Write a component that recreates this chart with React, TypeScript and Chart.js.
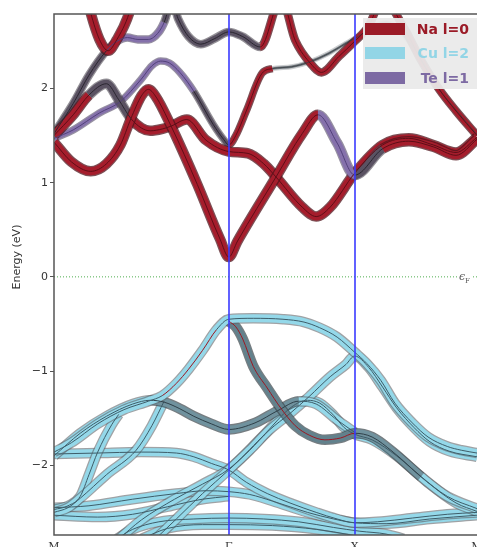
import React, { useEffect, useRef } from 'react';
import { Chart, registerables } from 'chart.js';
Chart.register(...registerables);

// ---- axes ----
const kTicks = [0, 1, 1.72, 2.42];
const kLabels = ['M', 'Γ', 'X', 'M'];
const eTicks = [-2, -1, 0, 1, 2];
const eMin = -2.74;
const eMax = 2.79;
const yTitle = 'Energy (eV)';
const fermiLabel = 'ϵ';

// ---- legend ----
const legendNames = ['Na l=0', 'Cu l=2', 'Te l=1'];
const legendColors = ['#9b1b27', '#92d5e6', '#7d6aa3'];

// ---- conduction bands [k, E] with per-point character codes ----
const naLow = [[0,1.43],[0.10,1.22],[0.21,1.12],[0.30,1.20],[0.38,1.40],[0.44,1.68],[0.50,1.92],[0.54,1.99],[0.58,1.92],[0.67,1.60],[0.82,0.98],[0.95,0.40],[1.00,0.21],[1.05,0.38],[1.27,1.06],[1.42,1.52],[1.51,1.72],[1.62,1.42],[1.72,1.08],[1.88,1.36],[2.03,1.44],[2.17,1.38],[2.30,1.29],[2.42,1.46]];
const naLowCodes = 'rrrrrrrrrrrrrrrrppkrrrrr';
const naMid = [[0,1.50],[0.11,1.72],[0.20,1.93],[0.30,2.05],[0.37,1.88],[0.44,1.68],[0.50,1.58],[0.55,1.55],[0.62,1.57],[0.67,1.60],[0.76,1.67],[0.87,1.45],[1.00,1.33],[1.11,1.31],[1.20,1.20],[1.27,1.06],[1.42,0.74],[1.50,0.64],[1.58,0.74],[1.72,1.10],[1.88,1.40],[2.03,1.47],[2.17,1.40],[2.30,1.32],[2.42,1.48]];
const naMidCodes = 'rrkkkrrrrrrrrrrrrrrrrrrrr';
const naV = [[0.17,3.10],[0.21,2.80],[0.26,2.52],[0.31,2.40],[0.36,2.52],[0.43,2.80],[0.47,3.10]];
const naVCodes = 'rrrrrrr';
const teA = [[0,1.52],[0.11,1.84],[0.20,2.14],[0.30,2.40],[0.36,2.50],[0.42,2.54],[0.48,2.52],[0.54,2.52],[0.60,2.60],[0.63,2.70],[0.675,2.92],[0.71,2.74],[0.77,2.55],[0.84,2.47],[0.92,2.53],[1.00,2.60],[1.08,2.55],[1.18,2.44],[1.30,2.95],[1.38,2.51],[1.47,2.26],[1.53,2.17],[1.63,2.34],[1.72,2.50],[1.80,2.66],[1.88,2.95],[2.00,2.65],[2.10,2.30],[2.20,2.00],[2.30,1.76],[2.42,1.50]];
const teACodes = 'kkkppppppkkkkkkkkrrrrrrrrrrrrrr';
const teB = [[0,1.47],[0.11,1.56],[0.26,1.74],[0.38,1.86],[0.50,2.10],[0.56,2.24],[0.61,2.29],[0.66,2.27],[0.72,2.17],[0.80,1.97],[0.91,1.62],[0.97,1.46],[1.00,1.40],[1.04,1.50],[1.10,1.76],[1.19,2.16],[1.25,2.21],[1.36,2.23],[1.46,2.28],[1.57,2.37],[1.69,2.50],[1.72,2.53],[1.90,2.70],[2.05,2.45],[2.20,2.00],[2.30,1.77],[2.42,1.51]];
const teBCodes = 'pppppppppkkkrrrrhhhhhhhhhhh';

// ---- valence bands ----
const cuTop = [[0,-1.86],[0.10,-1.76],[0.25,-1.56],[0.40,-1.41],[0.54,-1.32],[0.62,-1.26],[0.70,-1.13],[0.77,-0.98],[0.85,-0.78],[0.93,-0.56],[1.00,-0.45],[1.14,-0.44],[1.31,-0.45],[1.43,-0.48],[1.52,-0.54],[1.62,-0.64],[1.72,-0.80],[1.79,-0.92],[1.87,-1.10],[1.95,-1.34],[2.05,-1.55],[2.14,-1.70],[2.25,-1.80],[2.33,-1.84],[2.42,-1.87]];
const cuTopCodes = 'cccccyyyycccccccccccccccc';
const cuG = [[0.57,-2.80],[0.70,-2.57],[0.85,-2.30],[1.00,-2.05],[1.12,-1.84],[1.23,-1.63],[1.35,-1.45],[1.46,-1.27],[1.58,-1.06],[1.67,-0.93],[1.72,-0.84],[1.80,-0.96],[1.88,-1.17],[1.96,-1.39],[2.06,-1.60],[2.15,-1.75],[2.26,-1.85],[2.42,-1.91]];
const cuGCodes = 'cccccccccccccccccc';
const cuH = [[0.36,-2.80],[0.50,-2.58],[0.69,-2.36],[0.85,-2.20],[1.00,-2.04],[1.19,-1.70],[1.36,-1.38],[1.45,-1.31],[1.52,-1.34],[1.60,-1.47],[1.66,-1.60],[1.72,-1.67],[1.82,-1.73],[1.96,-1.90],[2.13,-2.17],[2.30,-2.40],[2.42,-2.49]];
const cuHCodes = 'ccccccccccccccccc';
const cuVb = [[0,-1.90],[0.15,-1.66],[0.30,-1.48],[0.45,-1.35],[0.55,-1.31],[0.63,-1.33],[0.72,-1.40],[0.80,-1.48],[0.90,-1.56],[1.00,-1.62],[1.15,-1.55],[1.28,-1.42],[1.40,-1.32],[1.50,-1.35],[1.62,-1.52],[1.72,-1.65]];
const cuVbCodes = 'ccccggggggggcccc';
const cuR = [[1.00,-0.47],[1.04,-0.53],[1.08,-0.66],[1.14,-0.95],[1.22,-1.18],[1.30,-1.40],[1.38,-1.58],[1.46,-1.68],[1.55,-1.73],[1.64,-1.71],[1.72,-1.66],[1.82,-1.70],[1.94,-1.86],[2.10,-2.12],[2.25,-2.33],[2.42,-2.46]];
const cuRCodes = 'xxxxxxxxxxgggccc';
const cuFlat = [[0,-1.88],[0.25,-1.87],[0.50,-1.86],[0.70,-1.87],[0.80,-1.91],[0.90,-1.98],[1.00,-2.05],[1.10,-2.18],[1.22,-2.30],[1.35,-2.40],[1.50,-2.50],[1.62,-2.57],[1.72,-2.61],[1.85,-2.60],[2.05,-2.56],[2.25,-2.52],[2.42,-2.50]];
const cuFlatCodes = 'ccccccccccccccccc';
const cuD1 = [[0,-2.47],[0.08,-2.43],[0.15,-2.33],[0.20,-2.10],[0.25,-1.86],[0.33,-1.57],[0.37,-1.46]];
const cuD1Codes = 'ccccccc';
const cuD2 = [[0,-2.50],[0.08,-2.45],[0.15,-2.35],[0.30,-2.10],[0.47,-1.84],[0.56,-1.58],[0.63,-1.32]];
const cuD2Codes = 'ccccccc';
const cuLens = [[0,-2.45],[0.20,-2.43],[0.45,-2.36],[0.70,-2.30],[0.87,-2.27],[1.00,-2.28],[1.12,-2.31],[1.25,-2.38],[1.45,-2.50],[1.60,-2.57],[1.72,-2.61],[1.90,-2.62],[2.15,-2.57],[2.42,-2.53]];
const cuLensCodes = 'cccccccccccccc';
const cuLow = [[0,-2.53],[0.25,-2.55],[0.45,-2.52],[0.65,-2.44],[0.85,-2.36],[1.00,-2.33]];
const cuLowCodes = 'cccccc';
const cuBot1 = [[0.36,-2.78],[0.45,-2.68],[0.60,-2.60],[0.80,-2.57],[1.00,-2.56],[1.20,-2.57],[1.40,-2.60],[1.60,-2.66],[1.75,-2.70],[1.90,-2.73],[2.00,-2.78]];
const cuBot1Codes = 'ccccccccccc';
const cuBot2 = [[0.50,-2.78],[0.65,-2.67],[0.85,-2.63],[1.00,-2.63],[1.25,-2.64],[1.50,-2.68],[1.70,-2.74],[1.80,-2.78]];
const cuBot2Codes = 'cccccccc';

const fillCol: Record<string, string> = { r: '#a51d2c', c: '#94d8e9', p: '#8571ab', k: '#5a5262', g: '#70929e', x: '#62818c', y: '#94d8e9', h: '#6f767c' };
const coreCol: Record<string, string> = { r: '#5e0e17', c: '#3e5d69', p: '#52417a', k: '#2a2630', g: '#2f4049', x: '#9c1822', y: '#9c1822', h: '#3a3f44' };
const edgeCol: Record<string, string> = { r: 'rgba(80,20,28,0.75)', c: 'rgba(95,100,105,0.6)', p: 'rgba(80,70,100,0.6)', k: 'rgba(60,55,65,0.55)', g: 'rgba(60,70,75,0.7)', x: 'rgba(60,70,75,0.7)', y: 'rgba(95,100,105,0.6)', h: 'rgba(110,115,120,0.35)' };
const thinCodes: Record<string, number> = { h: 2.5 };

const bandList: [number[][], string, number][] = [
  [cuBot2, cuBot2Codes, 8], [cuBot1, cuBot1Codes, 8], [cuLow, cuLowCodes, 8], [cuLens, cuLensCodes, 8],
  [cuFlat, cuFlatCodes, 8], [cuD1, cuD1Codes, 8], [cuD2, cuD2Codes, 8], [cuH, cuHCodes, 8], [cuG, cuGCodes, 8],
  [cuVb, cuVbCodes, 8], [cuR, cuRCodes, 8], [cuTop, cuTopCodes, 8],
  [teB, teBCodes, 5], [teA, teACodes, 6], [naV, naVCodes, 8], [naMid, naMidCodes, 8], [naLow, naLowCodes, 8],
];

const decoPlugin = {
  id: 'deco',
  beforeDatasetsDraw(chart: any) {
    const { ctx, chartArea: a, scales } = chart;
    const y0 = scales.y.getPixelForValue(0);
    ctx.save();
    ctx.strokeStyle = 'rgba(70,170,70,0.95)';
    ctx.lineWidth = 1;
    ctx.setLineDash([1, 2]);
    ctx.beginPath();
    ctx.moveTo(a.left, y0); ctx.lineTo(a.right - 20, y0);
    ctx.moveTo(a.right - 4, y0); ctx.lineTo(a.right, y0);
    ctx.stroke();
    ctx.restore();
  },
  afterDatasetsDraw(chart: any) {
    const { ctx, chartArea: a, scales } = chart;
    ctx.save();
    ctx.setLineDash([]);
    // high-symmetry lines
    ctx.strokeStyle = '#3a3aff';
    ctx.lineWidth = 1.6;
    [kTicks[1], kTicks[2]].forEach((k) => {
      const x = Math.round(scales.x.getPixelForValue(k));
      ctx.beginPath(); ctx.moveTo(x, a.top); ctx.lineTo(x, a.bottom); ctx.stroke();
    });
    // frame
    ctx.strokeStyle = '#555';
    ctx.lineWidth = 1.5;
    ctx.beginPath();
    ctx.moveTo(a.right + 5, a.top); ctx.lineTo(a.left, a.top); ctx.lineTo(a.left, a.bottom); ctx.lineTo(a.right + 5, a.bottom);
    ctx.stroke();
    // fermi label
    const y0 = scales.y.getPixelForValue(0);
    ctx.fillStyle = '#555';
    ctx.font = 'italic 11px "DejaVu Serif"';
    ctx.textBaseline = 'alphabetic';
    ctx.textAlign = 'left';
    ctx.fillText(fermiLabel, a.right - 18, y0 + 3);
    ctx.font = '7px "DejaVu Serif"';
    ctx.fillText('F', a.right - 12, y0 + 6);
    // y title
    ctx.save();
    ctx.translate(17, 257);
    ctx.rotate(-Math.PI / 2);
    ctx.font = '11px "DejaVu Sans"';
    ctx.fillStyle = '#333';
    ctx.textAlign = 'center';
    ctx.textBaseline = 'middle';
    ctx.fillText(yTitle, 0, 0);
    ctx.restore();
    // legend
    ctx.fillStyle = 'rgba(234,234,234,0.94)';
    ctx.fillRect(363, 18, 130, 71);
    const rows = [29, 53, 78];
    legendNames.forEach((name, i) => {
      ctx.fillStyle = legendColors[i];
      ctx.fillRect(365, rows[i] - 6, 40, 12);
      ctx.font = 'bold 14px "DejaVu Sans"';
      ctx.textAlign = 'right';
      ctx.textBaseline = 'middle';
      ctx.fillText(name, 469, rows[i] + 1);
    });
    ctx.restore();
  },
};

export default function App() {
  const ref = useRef<HTMLCanvasElement | null>(null);
  useEffect(() => {
    document.documentElement.style.overflow = 'hidden';
    document.body.style.overflow = 'hidden';
    const outlines: any[] = [];
    const fills: any[] = [];
    const cores: any[] = [];
    bandList.forEach(([pts, codes, w]) => {
      const data = pts.map((p) => ({ x: p[0], y: p[1] }));
      const base = { data, pointRadius: 0, cubicInterpolationMode: 'monotone', clip: 0, fill: false };
      const code = (c: any) => codes[c.p0DataIndex] || 'c';
      const wOf = (cd: string) => (thinCodes[cd] !== undefined ? thinCodes[cd] : w);
      outlines.push({
        ...base, borderColor: edgeCol[codes[0]], borderWidth: w + 2.5,
        segment: { borderColor: (c: any) => edgeCol[code(c)], borderWidth: (c: any) => wOf(code(c)) + 2.5 },
      });
      fills.push({
        ...base, borderWidth: w, borderColor: fillCol[codes[0]],
        segment: { borderColor: (c: any) => fillCol[code(c)], borderWidth: (c: any) => wOf(code(c)) },
      });
      cores.push({
        ...base, borderWidth: 1, borderColor: coreCol[codes[0]],
        segment: { borderColor: (c: any) => coreCol[code(c)], borderWidth: (c: any) => (thinCodes[code(c)] !== undefined ? 0.8 : 1) },
      });
    });
    const seq: any[] = [];
    for (let i = 0; i < outlines.length; i++) { seq.push(outlines[i]); seq.push(fills[i]); }
    cores.forEach((c) => seq.push(c));
    const N = seq.length;
    const datasets = seq.map((d, i) => ({ ...d, order: N - i }));

    const chart = new Chart(ref.current as HTMLCanvasElement, {
      type: 'line',
      data: { datasets },
      options: {
        animation: false,
        responsive: false,
        layout: { padding: { left: 0, right: 13, top: 14, bottom: 0 } },
        plugins: { legend: { display: false }, tooltip: { enabled: false } },
        scales: {
          x: {
            type: 'linear', min: kTicks[0], max: kTicks[3],
            afterBuildTicks: (s: any) => { s.ticks = kTicks.map((v) => ({ value: v })); },
            afterFit: (s: any) => { s.height = 20; },
            grid: { display: false, drawTicks: false },
            border: { display: false },
            ticks: {
              padding: 6, autoSkip: false, maxRotation: 0, color: '#333',
              font: { family: '"DejaVu Serif"', size: 11 },
              callback: (v: any, i: number) => kLabels[i],
            },
          },
          y: {
            type: 'linear', min: eMin, max: eMax,
            afterBuildTicks: (s: any) => { s.ticks = eTicks.map((v) => ({ value: v })); },
            afterFit: (s: any) => { s.width = 54; },
            grid: { drawOnChartArea: false, drawTicks: true, tickLength: 4, color: '#555' },
            border: { display: false },
            ticks: {
              padding: 2, color: '#333',
              font: { family: '"DejaVu Sans"', size: 11 },
              callback: (v: any) => (v < 0 ? '\u2212' + Math.abs(v) : String(v)),
            },
          },
        },
      },
      plugins: [decoPlugin],
    } as any);
    return () => chart.destroy();
  }, []);
  return (
    <div style={{ position: 'absolute', left: 0, top: 0, width: 490, height: 555, background: '#fff' }}>
      <canvas ref={ref} width={490} height={555} style={{ display: 'block' }} />
    </div>
  );
}
